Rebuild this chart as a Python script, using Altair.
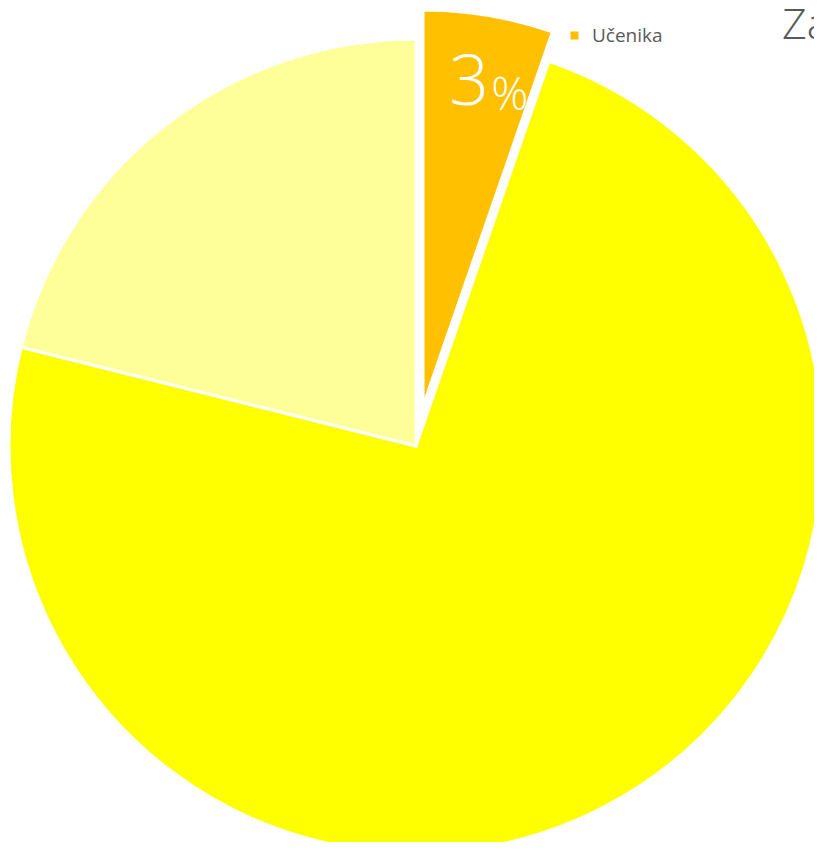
import altair as alt
import pandas as pd

categories = ["Učenika", "Ostali", "Nastavnika"]
shares = [5.3, 73.6, 21.1]
colors = ["#FFC000", "#FFFF00", "#FFFF99"]
slice_labels = ["3", "", ""]
title_text = "Zastupljenost"

df = pd.DataFrame({"cat": categories, "val": shares, "ord": list(range(len(categories))),
                   "lab": slice_labels})

color = alt.Color("cat:N", scale=alt.Scale(domain=categories, range=colors),
                  legend=alt.Legend(values=["Učenika"], orient="none", legendX=557, legendY=18,
                                    title=None, symbolType="square", symbolSize=64,
                                    symbolStrokeWidth=0, labelFontSize=19, labelOffset=8,
                                    labelColor="#595959", labelFont="Open Sans", padding=0))
theta = alt.Theta("val:Q", stack=True)
order = alt.Order("ord:Q")
is_u = alt.datum.cat == "Učenika"

base = alt.Chart(df)

main = base.mark_arc(radius=407, stroke="white", strokeWidth=3).encode(
    theta=theta, order=order, color=color,
    opacity=alt.condition(is_u, alt.value(0), alt.value(1)),
    x=alt.value(408), y=alt.value(438))

expl = base.mark_arc(radius=396, stroke="white", strokeWidth=3).encode(
    theta=theta, order=order, color=color,
    opacity=alt.condition(is_u, alt.value(1), alt.value(0)),
    x=alt.value(415), y=alt.value(398))

num = base.mark_text(radius=325, dx=-8, dy=20, baseline="alphabetic", align="center",
                     font="Open Sans", fontWeight=300, fontSize=70, color="white").encode(
    theta=theta, order=order, text="lab:N", x=alt.value(415), y=alt.value(398))

pct = base.transform_calculate(p="datum.lab == '' ? '' : '%'").mark_text(
    radius=325, dx=33, dy=25, baseline="alphabetic", align="center",
    font="Open Sans", fontWeight=300, fontSize=46, color="white").encode(
    theta=theta, order=order, text="p:N", x=alt.value(415), y=alt.value(398))

ttl = alt.Chart(pd.DataFrame({"t": [title_text]})).mark_text(
    align="left", baseline="alphabetic", font="Open Sans", fontWeight=300,
    fontSize=43, color="#595959").encode(text="t:N", x=alt.value(774), y=alt.value(31))

chart = alt.layer(main, expl, num, pct, ttl).properties(
    width=806, height=834, padding=0, autosize="none"
).configure_view(stroke=None)

chart.save("out.html", embed_options={"renderer": "svg", "actions": False})
